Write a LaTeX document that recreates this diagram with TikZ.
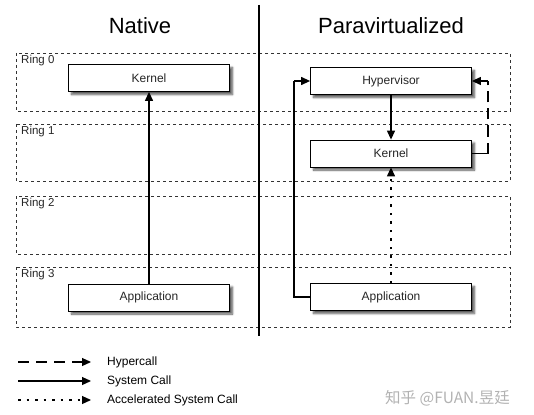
\documentclass[tikz,border=0pt]{standalone}
\usepackage{fontspec}
\setmainfont{Liberation Sans}
\newfontfamily\cjkfont{Noto Sans CJK SC}
\usetikzlibrary{arrows.meta,shadows.blur}
\begin{document}
\begin{tikzpicture}[x=1pt,y=-1pt,
  ringbox/.style={draw=black!80,line width=0.6pt,dash pattern=on 3pt off 3pt},
  ringlabel/.style={anchor=north west,inner sep=0pt,font=\fontsize{11.5}{13}\selectfont,text=black!85},
  procbox/.style={draw=black,line width=0.8pt,fill=white,minimum width=161pt,minimum height=27pt,inner sep=0pt,font=\fontsize{12}{14}\selectfont,text=black!85,blur shadow={shadow xshift=3pt,shadow yshift=-3pt,shadow blur steps=6,shadow opacity=65}},
  title/.style={font=\fontsize{22}{26}\selectfont},
  tip/.style={-{Triangle[length=9pt,width=8pt]}},
  call/.style={tip,line width=1.2pt},
  hcall/.style={tip,line width=1.2pt,dash pattern=on 11pt off 7pt},
  acall/.style={tip,line width=1.2pt,dash pattern=on 2.5pt off 6pt},
  legtext/.style={anchor=west,inner sep=0pt,font=\fontsize{12}{14}\selectfont}
]
\useasboundingbox (0,0) rectangle (534,414);
% ring bands
\draw[ringbox] (16,53) rectangle (510,111);
\draw[ringbox] (16,124) rectangle (510,181);
\draw[ringbox] (16,196) rectangle (510,254);
\draw[ringbox] (16,267) rectangle (510,327);
\node[ringlabel] (r0) at (21,55) {Ring 0};
\node[ringlabel] (r1) at (21,126) {Ring 1};
\node[ringlabel] (r2) at (21,198) {Ring 2};
\node[ringlabel] (r3) at (21,269) {Ring 3};
% divider
\coordinate (dtop) at (259,5);
\coordinate (dbot) at (259,336);
\draw[line width=1.2pt] (dtop) -- (dbot);
% titles
\node[title] (tn) at (140,26) {Native};
\node[title] (tp) at (391,26) {Paravirtualized};
% native
\node[procbox] (nk) at (149,78) {Kernel};
\node[procbox] (na) at (149,297.5) {Application};
\draw[call] (na.north) -- (nk.south);
% paravirtualized
\node[procbox] (hv) at (391,81) {Hypervisor};
\node[procbox] (pk) at (391,153.5) {Kernel};
\node[procbox] (pa) at (391,297) {Application};
\draw[call] (hv.south) -- (pk.north);
\draw[acall] (pa.north) -- (pk.south);
\coordinate (lc) at (294,297);
\coordinate (lt) at (294,81);
\draw[line width=1.2pt] (pa.west) -- (lc) -- (lt);
\draw[call] (lt) -- (hv.west);
\coordinate (rc) at (488,153.5);
\coordinate (rt) at (488,81);
\draw[line width=1.2pt] (pk.east) -- (rc);
\draw[line width=1.2pt,dash pattern=on 11pt off 6pt] (rc) -- (rt);
\draw[call] (rt) -- (hv.east);
% legend
\coordinate (l1a) at (18,362); \coordinate (l1b) at (91,362);
\coordinate (l2a) at (18,381); \coordinate (l2b) at (91,381);
\coordinate (l3a) at (18,400); \coordinate (l3b) at (91,400);
\draw[hcall] (l1a) -- (l1b);
\draw[call] (l2a) -- (l2b);
\draw[acall] (l3a) -- (l3b);
\node[legtext] (t1) at (107,362) {Hypercall};
\node[legtext] (t2) at (107,381) {System Call};
\node[legtext] (t3) at (107,400) {Accelerated System Call};
% watermark
\node[anchor=west,inner sep=0pt,text=black!30,font=\cjkfont\fontsize{15.5}{18}\selectfont] (wm) at (385,398) {知乎 @FUAN.昱廷};
\end{tikzpicture}
\end{document}
